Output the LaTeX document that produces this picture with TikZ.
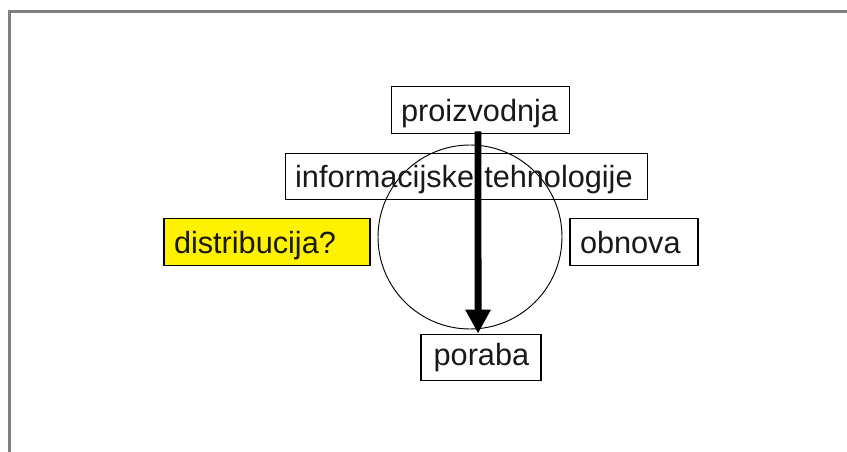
\documentclass[tikz,border=0pt]{standalone}
\usepackage{fontspec}
\setmainfont{Liberation Sans}
\usetikzlibrary{arrows.meta}
\definecolor{boxyellow}{RGB}{255,242,0}
\definecolor{framegray}{RGB}{128,128,128}
\begin{document}
\begin{tikzpicture}[x=0.75pt,y=-0.75pt,
  lbl/.style={draw=black,line width=0.9pt,inner xsep=7.5pt,inner ysep=0pt,text height=26pt,text depth=9pt,font=\fontsize{23}{26}\selectfont,anchor=center,text=black!90,align=left},
  framel/.style={draw=framegray,line width=1.6pt}]
\useasboundingbox (0,0) rectangle (847,452);
\draw[framel] (9.5,452) -- (9.5,11.5) -- (847,11.5);
\node[draw,circle,minimum size=138pt,line width=0.7pt] (c) at (470,237) {};
\node[lbl,text width=119pt] (p) at (480.5,110) {proizvodnja};
\node[lbl,text width=257pt] (it) at (466.5,176.5) {informacijske tehnologije};
\node[lbl,fill=boxyellow,text width=139.5pt] (d) at (267,242) {distribucija?};
\node[lbl,text width=81pt] (o) at (634,242) {obnova};
\node[lbl,text width=75pt,text height=23.5pt,text depth=11.5pt] (r) at (481,357.5) {\hspace*{2pt}poraba};
\draw[line width=5.2pt,-{Triangle[length=18pt,width=18pt]}] ([xshift=-1.9pt,yshift=2pt]p.south) -- ([xshift=-2.2pt]r.north);
\end{tikzpicture}
\end{document}
